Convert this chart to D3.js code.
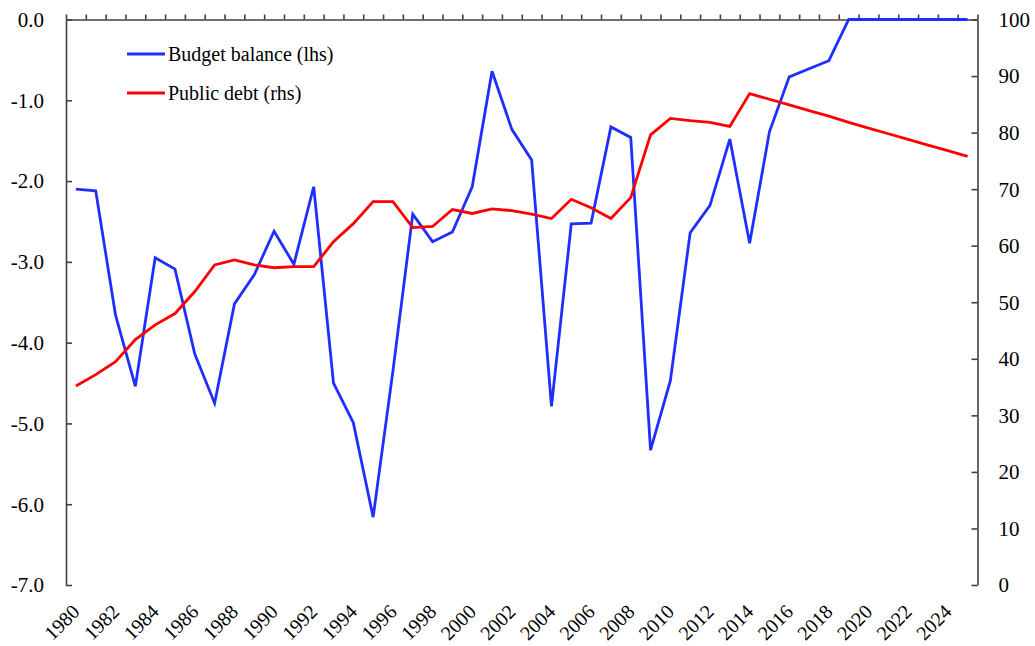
<!DOCTYPE html>
<html>
<head>
<meta charset="utf-8">
<script src="https://cdn.jsdelivr.net/npm/d3@7"></script>
<style>
    body { margin: 0; background: #fff; }
    svg text { font-family: "Liberation Serif", "DejaVu Serif", serif; fill: #000; }
    .line { fill: none; stroke-width: 2.8px; stroke-linejoin: miter; }
</style>
</head>
<body>
<script>
// years 1980 - 2025
var years = d3.range(1980, 2026);

// budget balance, % of GDP (lhs)
var budget = [
    -2.10, -2.12, -3.66, -4.54, -2.95, -3.09, -4.14, -4.75, -3.52, -3.16,
    -2.62, -3.03, -2.07, -4.50, -4.99, -6.16, -4.35, -2.41, -2.75, -2.63,
    -2.07, -0.64, -1.36, -1.74, -4.79, -2.53, -2.52, -1.33, -1.46, -5.33,
    -4.47, -2.64, -2.30, -1.48, -2.77, -1.39, -0.71, -0.61, -0.51, 0.00,
    0.00, 0.00, 0.00, 0.00, 0.00, 0.00
];

// public debt, % of GDP (rhs)
var debt = [
    35.2, 37.2, 39.5, 43.4, 46.0, 48.0, 51.9, 56.6, 57.5, 56.6,
    56.1, 56.3, 56.3, 60.7, 63.9, 67.8, 67.8, 63.2, 63.4, 66.4,
    65.7, 66.5, 66.2, 65.6, 64.8, 68.2, 66.7, 64.8, 68.5, 79.6,
    82.5, 82.1, 81.8, 81.1, 86.9, 85.9, 84.9, 83.9, 82.9, 81.8,
    80.8, 79.8, 78.8, 77.8, 76.8, 75.8
];

var leftTicks = [0, -1, -2, -3, -4, -5, -6, -7];
var rightTicks = [0, 10, 20, 30, 40, 50, 60, 70, 80, 90, 100];
var labelYears = d3.range(1980, 2026, 2);

var seriesNames = ["Budget balance (lhs)", "Public debt (rhs)"];
var seriesColors = ["#1f2fff", "#ff0000"];

var width = 1035, height = 646;
var margin = {left: 66, right: 977.5, top: 19.5, bottom: 585};

var svg = d3.select("body").append("svg")
    .attr("width", width)
    .attr("height", height);

var x = d3.scaleLinear().domain([1979.5, 2025.5]).range([margin.left, margin.right]);
var yL = d3.scaleLinear().domain([-7, 0]).range([margin.bottom, margin.top]);
var yR = d3.scaleLinear().domain([0, 100]).range([margin.bottom, margin.top]);

var axisColor = "#404040";

// top category axis (crosses at 0), ticks between categories
var topAxis = d3.axisTop(x)
    .tickValues(d3.range(1979.5, 2026, 1))
    .tickFormat("")
    .tickSize(5)
    .tickSizeOuter(0);
svg.append("g").attr("transform", "translate(0," + margin.top + ")").call(topAxis);

var leftAxis = d3.axisRight(yL)
    .tickValues(leftTicks)
    .tickFormat("")
    .tickSize(6)
    .tickSizeOuter(0);
svg.append("g").attr("transform", "translate(" + margin.left + ",0)").call(leftAxis);

var rightAxis = d3.axisLeft(yR)
    .tickValues(rightTicks)
    .tickFormat("")
    .tickSize(6)
    .tickSizeOuter(0);
svg.append("g").attr("transform", "translate(" + margin.right + ",0)").call(rightAxis);

svg.selectAll(".domain, .tick line")
    .attr("stroke", axisColor)
    .attr("stroke-width", 1.6);

// left tick labels (plain hyphen as minus)
svg.append("g").selectAll("text")
    .data(leftTicks)
    .enter().append("text")
        .attr("x", margin.left - 22)
        .attr("y", function(d) { return yL(d); })
        .attr("dy", "0.35em")
        .style("text-anchor", "end")
        .style("font-size", "21px")
        .text(function(d) { return (d < 0 ? "-" : "") + Math.abs(d).toFixed(1); });

// right tick labels
svg.append("g").selectAll("text")
    .data(rightTicks)
    .enter().append("text")
        .attr("x", margin.right + 21)
        .attr("y", function(d) { return yR(d); })
        .attr("dy", "0.35em")
        .style("text-anchor", "start")
        .style("font-size", "21px")
        .text(function(d) { return d; });

// year labels at the bottom, rotated
svg.append("g").selectAll("text")
    .data(labelYears)
    .enter().append("text")
        .attr("transform", function(d) {
            return "translate(" + (x(d) + 5) + "," + (margin.bottom + 28) + ") rotate(-45)";
        })
        .style("text-anchor", "end")
        .style("font-size", "20px")
        .text(function(d) { return d; });

var budgetLine = d3.line()
    .x(function(d, i) { return x(years[i]); })
    .y(function(d) { return yL(d); });

var debtLine = d3.line()
    .x(function(d, i) { return x(years[i]); })
    .y(function(d) { return yR(d); });

svg.append("path").attr("class", "line")
    .attr("stroke", seriesColors[0])
    .attr("d", budgetLine(budget));

svg.append("path").attr("class", "line")
    .attr("stroke", seriesColors[1])
    .attr("d", debtLine(debt));

// legend
var legend = svg.append("g");
seriesNames.forEach(function(name, i) {
    var ly = 54 + i * 39;
    legend.append("line")
        .attr("x1", 127).attr("x2", 165)
        .attr("y1", ly).attr("y2", ly)
        .attr("stroke", seriesColors[i])
        .attr("stroke-width", 2.8);
    legend.append("text")
        .attr("x", 168)
        .attr("y", ly)
        .attr("dy", "0.33em")
        .style("font-size", "20px")
        .text(name);
});
</script>
</body>
</html>
